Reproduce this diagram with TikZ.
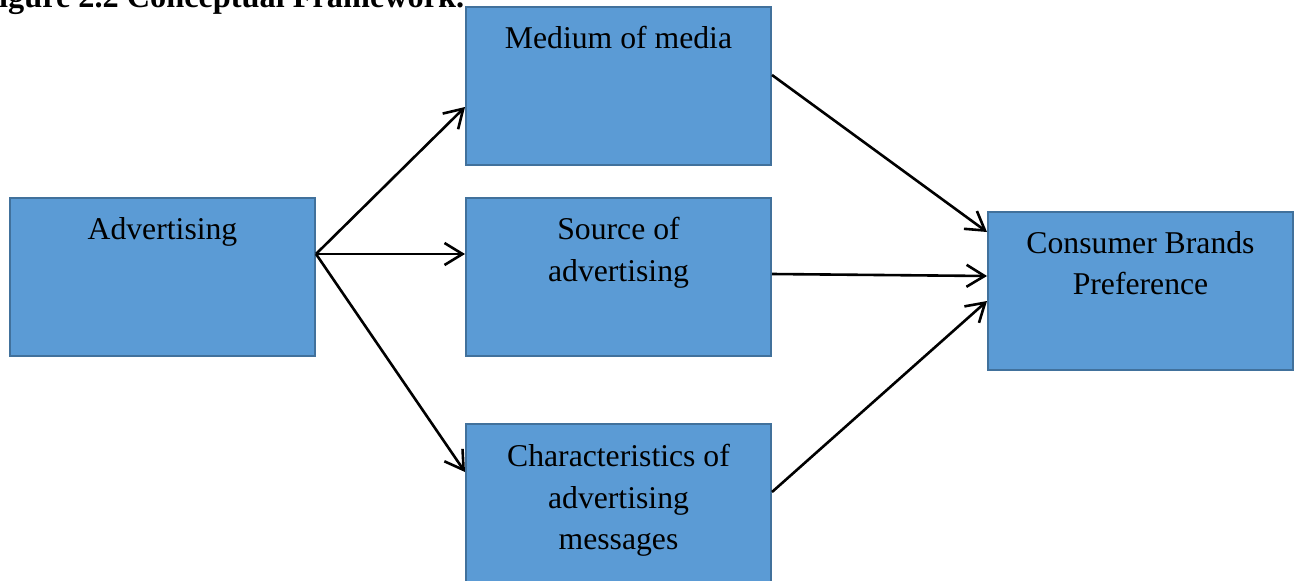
\documentclass[tikz,border=0pt]{standalone}
\usepackage{fontspec}
\setmainfont{Liberation Serif}
\usetikzlibrary{arrows.meta}
\definecolor{boxfill}{HTML}{5B9BD5}
\definecolor{boxline}{HTML}{41719C}
\tikzset{
  box/.style={draw=boxline, fill=boxfill, line width=2pt, rectangle,
    minimum width=305pt, minimum height=158pt, inner sep=0pt, anchor=north west},
  txt/.style={font=\fontsize{31.7}{41.5}\selectfont, align=center, inner sep=0pt, anchor=north},
  conn/.style={line width=2.6pt, -{Straight Barb[length=18pt,width=22pt,line width=2.6pt]}},
  ttl/.style={font=\bfseries\fontsize{32.3}{38}\selectfont, inner sep=0pt, anchor=base west}
}
\begin{document}
\begin{tikzpicture}[x=1pt,y=-1pt]
\useasboundingbox (0,0) rectangle (1296,581);
\node[ttl] (title) at (-1,7) {igure 2.2 Conceptual Framework.};
\node[box] (adv) at (9,197) {};
\node[box] (med) at (465,6) {};
\node[box] (src) at (465,197) {};
\node[box] (chr) at (465,423) {};
\node[box] (con) at (987,211) {};
\node[txt] (tadv) at ([yshift=-20pt]adv.north) {Advertising};
\node[txt] (tmed) at ([yshift=-20pt]med.north) {Medium of media};
\node[txt] (tsrc) at ([yshift=-20pt]src.north) {Source of\\advertising};
\node[txt] (tchr) at ([yshift=-21pt]chr.north) {Characteristics of\\advertising\\messages};
\node[txt] (tcon) at ([yshift=-20pt]con.north) {Consumer Brands\\Preference};
\coordinate (s) at ([yshift=23pt]adv.east);
\draw[conn] (s) -- ([yshift=-21pt]med.west);
\draw[conn] (s) -- ([yshift=23pt]src.west);
\draw[conn] (s) -- ([yshift=31pt]chr.west);
\draw[conn] ([yshift=11pt]med.east) -- ([yshift=59pt]con.west);
\draw[conn] ([yshift=3pt]src.east) -- ([yshift=15pt]con.west);
\draw[conn] ([yshift=11pt]chr.east) -- ([yshift=-10pt]con.west);
\end{tikzpicture}
\end{document}
